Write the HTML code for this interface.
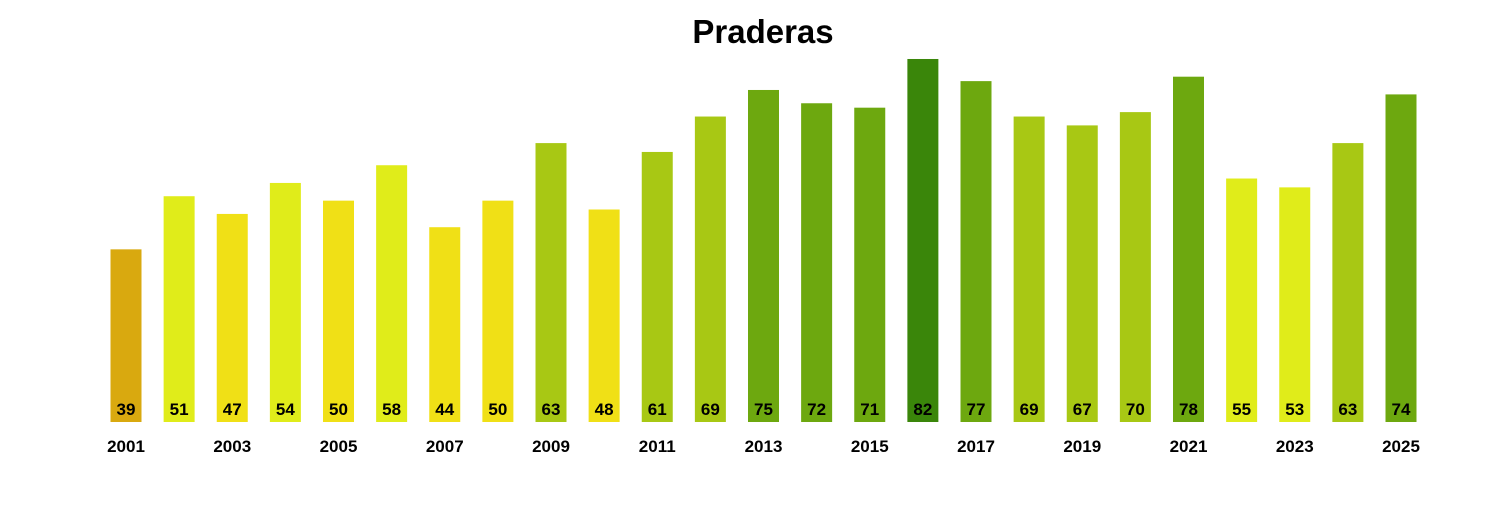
<!DOCTYPE html>
<html><head><meta charset="utf-8"><style>
html,body{margin:0;padding:0;background:#fff;}
svg text{font-family:"Liberation Sans",Arial,sans-serif;font-weight:bold;}
</style></head><body>
<svg id="chart" width="1500" height="500" viewBox="0 0 1500 500">
<text x="763" y="43" text-anchor="middle" font-size="33" fill="#000">Praderas</text>
<g id="bars"></g>
</svg>
<script>
const years=[2001,2002,2003,2004,2005,2006,2007,2008,2009,2010,2011,2012,2013,2014,2015,2016,2017,2018,2019,2020,2021,2022,2023,2024,2025];
const values=[39,51,47,54,50,58,44,50,63,48,61,69,75,72,71,82,77,69,67,70,78,55,53,63,74];
const x0=126,step=53.125,base=422,scale=4.427,bw=31;
function xs(i){return x0+i*step;}
function ys(v){return base-v*scale;}
function color(v){
 if(v>=80)return '#3A860A';
 if(v>=71)return '#6DA80F';
 if(v>=60)return '#A8C814';
 if(v>=51)return '#E0EC1A';
 if(v>=42)return '#F0E016';
 return '#D9A90F';
}
const g=document.getElementById('bars');
const NS='http://www.w3.org/2000/svg';
values.forEach((v,i)=>{
 const r=document.createElementNS(NS,'rect');
 r.setAttribute('x',xs(i)-bw/2);r.setAttribute('y',ys(v));
 r.setAttribute('width',bw);r.setAttribute('height',base-ys(v));
 r.setAttribute('fill',color(v));
 
 
 g.appendChild(r);
 const t=document.createElementNS(NS,'text');
 t.setAttribute('x',xs(i));t.setAttribute('y',415);
 t.setAttribute('text-anchor','middle');t.setAttribute('font-size','17');
 t.textContent=v;
 
 
 g.appendChild(t);
 if(i%2===0){
  const l=document.createElementNS(NS,'text');
  l.setAttribute('x',xs(i));l.setAttribute('y',452);
  l.setAttribute('text-anchor','middle');l.setAttribute('font-size','17');
  l.textContent=years[i];
  
  
  g.appendChild(l);
 }
});
</script>
</body></html>
